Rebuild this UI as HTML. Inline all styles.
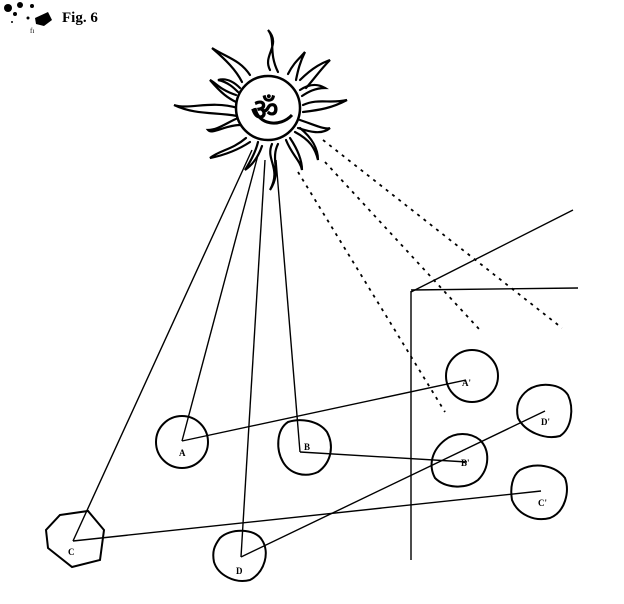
<!DOCTYPE html>
<html><head><style>body{margin:0;background:#fff}svg{display:block}</style></head>
<body>
<svg width="624" height="604" viewBox="0 0 624 604" xmlns="http://www.w3.org/2000/svg">
<rect width="624" height="604" fill="#fff"/>
<g fill="#000">
<circle cx="8" cy="8" r="4"/><circle cx="20" cy="5" r="3"/><circle cx="32" cy="6" r="2"/><circle cx="15" cy="14" r="2"/>
<path d="M35 18 L48 12 L52 20 L44 26 L36 24Z"/><circle cx="28" cy="18" r="1.5"/><circle cx="12" cy="22" r="1"/>
</g>
<text x="62" y="22" font-family="Liberation Serif, serif" font-weight="bold" font-size="15">Fig. 6</text>
<text x="30" y="33" font-family="Liberation Serif, serif" font-size="7">fı</text>
<g fill="none" stroke="#000" stroke-width="2.2" stroke-linecap="round">
<path d="M270 70 C262 55 282 45 268 30 C276 40 268 52 278 72"/>
<path d="M250 75 C240 60 228 58 212 48 C226 60 236 70 242 82"/>
<path d="M288 74 C294 62 300 58 305 52 C300 62 298 70 296 80"/>
<path d="M300 80 C315 65 325 62 330 60 C320 70 315 78 306 88"/>
<path d="M236 95 C220 90 215 82 210 80 C222 94 228 98 236 102"/>
<path d="M238 108 C210 100 190 110 174 105 C195 115 215 112 237 116"/>
<path d="M303 105 C318 98 330 104 347 100 C332 108 320 110 303 112"/>
<path d="M240 125 C225 125 212 135 208 130 C218 130 228 122 238 118"/>
<path d="M300 120 C315 125 325 130 330 128 C322 135 310 132 298 128"/>
<path d="M246 138 C232 150 220 150 210 158 C225 155 238 150 250 142"/>
<path d="M258 142 C255 155 248 165 245 170 C252 165 258 158 262 146"/>
<path d="M272 144 C265 160 282 168 270 190 C282 172 270 160 278 144"/>
<path d="M286 140 C292 155 300 160 302 170 C302 160 298 150 290 138"/>
<path d="M295 132 C310 140 315 148 318 160 C318 148 312 138 300 128"/>
<path d="M300 90 C312 82 320 85 325 88 C315 88 308 92 302 96"/>
<path d="M240 88 C232 80 225 78 218 80 C228 82 234 88 238 92"/>
</g>
<circle cx="268" cy="108" r="32" fill="#fff" stroke="#000" stroke-width="2.5"/>
<text x="251" y="120" font-family="Liberation Serif, serif" font-size="30" font-weight="bold">ॐ</text>
<path d="M255 108 C258 125 280 128 292 115" fill="none" stroke="#000" stroke-width="3"/>
<g stroke="#000" stroke-width="1.4" fill="none">
<line x1="252" y1="150" x2="73" y2="541"/>
<line x1="258" y1="155" x2="182" y2="441"/>
<line x1="265" y1="160" x2="241" y2="557"/>
<line x1="276" y1="160" x2="300" y2="452"/>
<line x1="182" y1="441" x2="466" y2="380"/>
<line x1="300" y1="452" x2="467" y2="462"/>
<line x1="73" y1="541" x2="541" y2="491"/>
<line x1="241" y1="557" x2="545" y2="411"/>
<line x1="411" y1="291" x2="411" y2="560"/>
<line x1="411" y1="290" x2="578" y2="288"/>
<line x1="411" y1="292" x2="573" y2="210"/>
</g>
<g stroke="#000" stroke-width="1.8" fill="none" stroke-dasharray="3,5">
<line x1="298" y1="172" x2="445" y2="412"/>
<line x1="325" y1="162" x2="479" y2="329"/>
<line x1="323" y1="140" x2="562" y2="328"/>
</g>
<g stroke="#000" stroke-width="2" fill="none">
<circle cx="182" cy="442" r="26"/>
<path d="M288 422 C300 418 318 420 327 432 C334 445 332 462 318 472 C305 478 290 474 283 462 C276 450 276 430 288 422Z"/>
<path d="M60 515 L88 511 L104 530 L100 560 L72 567 L48 548 L46 530Z"/>
<path d="M220 538 C230 528 255 528 262 540 C270 552 265 572 250 580 C235 584 218 575 214 562 C212 552 214 546 220 538Z"/>
<circle cx="472" cy="376" r="26"/>
<path d="M445 440 C455 432 470 432 480 440 C490 450 490 468 478 480 C465 490 445 488 435 478 C428 465 432 450 445 440Z"/>
<path d="M528 390 C540 382 560 383 568 395 C574 408 572 428 560 436 C545 440 525 432 518 418 C515 405 520 396 528 390Z"/>
<path d="M520 470 C535 462 555 465 565 478 C570 492 565 512 550 518 C535 522 518 515 512 500 C510 488 512 476 520 470Z"/>
</g>
<g font-family="Liberation Serif, serif" font-weight="bold" font-size="9" fill="#000">
<text x="179" y="456">A</text>
<text x="304" y="450">B</text>
<text x="68" y="555">C</text>
<text x="236" y="574">D</text>
<text x="462" y="386">A'</text>
<text x="461" y="466">B'</text>
<text x="541" y="425">D'</text>
<text x="538" y="506">C'</text>
</g>
</svg>
</body></html>
